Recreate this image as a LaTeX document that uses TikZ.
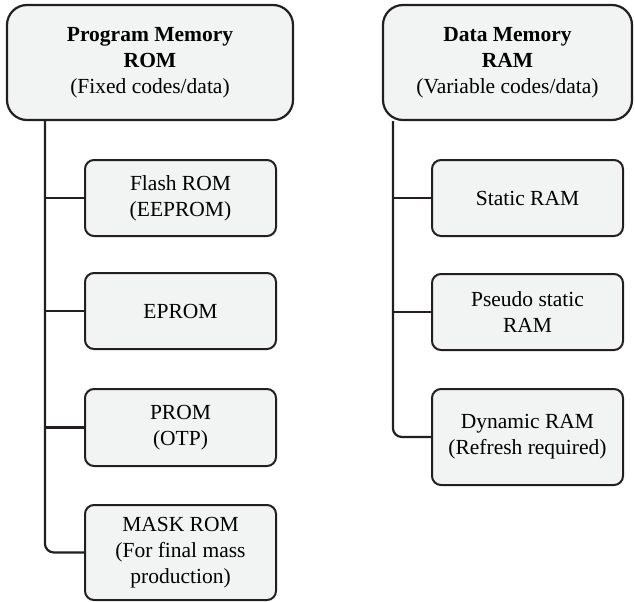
\documentclass[tikz,border=0pt]{standalone}
\usepackage{fontspec}
\setmainfont{Liberation Serif}
\definecolor{boxfill}{HTML}{F2F3F3}
\definecolor{boxline}{HTML}{231F20}
\tikzset{
  memtop/.style={draw=boxline,line width=2.2pt,fill=boxfill,rounded corners=20pt,
    align=center,inner sep=0pt,font=\fontsize{21.5}{26}\selectfont},
  memkind/.style={draw=boxline,line width=2pt,fill=boxfill,rounded corners=9pt,
    align=center,inner sep=0pt,minimum width=191pt,font=\fontsize{21.5}{26}\selectfont},
  link/.style={boxline,line width=2.2pt}
}
\begin{document}
\begin{tikzpicture}[x=1pt,y=1pt]
  \useasboundingbox (0,0) rectangle (635,-602);
  % top boxes
  \node[memtop,minimum width=286pt,minimum height=115pt] (prog) at (150,-62.5)
    {\textbf{Program Memory}\\\textbf{ROM}\\(Fixed codes/data)};
  \node[memtop,minimum width=249pt,minimum height=115pt] (data) at (507.5,-62.5)
    {\textbf{Data Memory}\\\textbf{RAM}\\(Variable codes/data)};
  % program memory kinds
  \node[memkind,minimum height=76pt] (flash) at (180.5,-198) {Flash ROM\\(EEPROM)};
  \node[memkind,minimum height=76pt] (eprom) at (180.5,-311) {EPROM};
  \node[memkind,minimum height=77pt] (prom) at (180.5,-427.5) {PROM\\(OTP)};
  \node[memkind,minimum height=95pt] (mask) at (180.5,-552.5) {MASK ROM\\(For final mass\\production)};
  % data memory kinds
  \node[memkind,minimum height=76pt] (sram) at (527.5,-198) {Static RAM};
  \node[memkind,minimum height=76pt] (psram) at (527.5,-312) {Pseudo static\\RAM};
  \node[memkind,minimum height=96pt] (dram) at (527.5,-437) {Dynamic RAM\\(Refresh required)};
  % trunks
  \coordinate (ltop) at ([xshift=39pt]prog.south west);
  \coordinate (rtop) at ([xshift=11pt]data.south west);
  \draw[link,rounded corners=9pt] (ltop) |- (mask.west);
  \draw[link,rounded corners=9pt] (rtop) |- (dram.west);
  \foreach \n in {flash,eprom,prom}
    \draw[link] (ltop |- \n.west) -- (\n.west);
  \foreach \n in {sram,psram}
    \draw[link] (rtop |- \n.west) -- (\n.west);
\end{tikzpicture}
\end{document}
